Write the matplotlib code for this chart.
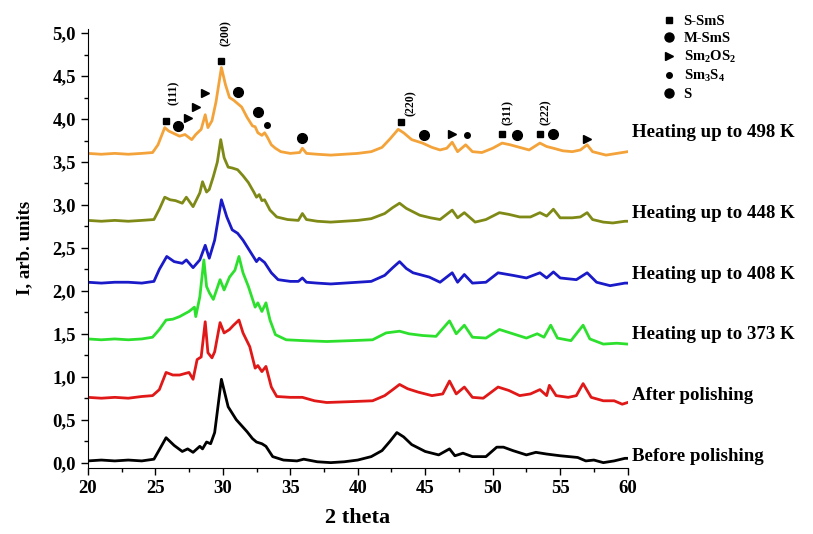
import numpy as np
import matplotlib
matplotlib.use('Agg')
import matplotlib.pyplot as plt
from matplotlib.lines import Line2D
from matplotlib.ticker import MultipleLocator, FuncFormatter

plt.rcParams['font.family'] = 'Liberation Serif'
plt.rcParams['font.weight'] = 'bold'
plt.rcParams['mathtext.fontset'] = 'custom'
plt.rcParams['mathtext.rm'] = 'Liberation Serif:bold'
plt.rcParams['mathtext.default'] = 'rm'

# ---- data (2 theta, intensity) ----
t_498 = [20, 21, 22, 23, 24, 24.8, 25.2, 25.7, 26.0, 26.4, 26.8, 27.2, 27.7, 28.0, 28.4, 28.7,
         28.9, 29.2, 29.5, 29.9, 30.2, 30.5, 30.8, 31.1, 31.4, 31.8, 32.2, 32.4, 32.6, 32.9,
         33.1, 33.3, 33.6, 33.9, 34.3, 35.0, 35.7, 35.9, 36.2, 37, 38, 39, 40, 41, 41.8, 42.4,
         43.0, 43.4, 44.0, 44.8, 45.5, 46.1, 46.6, 47.0, 47.4, 48.0, 48.5, 49.2, 50.0, 50.7,
         51.3, 52.0, 52.7, 53.5, 54.0, 54.5, 55.2, 55.9, 56.5, 57.0, 57.4, 58.4, 59.2, 60]
i_498 = [3.60, 3.59, 3.60, 3.59, 3.60, 3.61, 3.70, 3.90, 3.86, 3.83, 3.80, 3.82, 3.76, 3.82, 3.88, 4.05,
         3.90, 3.98, 4.20, 4.60, 4.40, 4.25, 4.22, 4.18, 4.14, 4.02, 3.92, 3.91, 3.84, 3.81,
         3.84, 3.79, 3.70, 3.66, 3.62, 3.60, 3.61, 3.66, 3.60, 3.59, 3.58, 3.59, 3.60, 3.62, 3.67, 3.77,
         3.88, 3.84, 3.76, 3.72, 3.67, 3.64, 3.66, 3.73, 3.62, 3.70, 3.62, 3.61, 3.66, 3.72,
         3.70, 3.67, 3.64, 3.72, 3.68, 3.66, 3.63, 3.62, 3.64, 3.70, 3.62, 3.58, 3.60, 3.62]

t_448 = [20, 21, 22, 23, 24, 24.9, 25.3, 25.7, 26.1, 26.5, 27.0, 27.3, 27.8, 28.3, 28.5, 28.8,
         29.0, 29.3, 29.6, 29.85, 30.1, 30.4, 30.7, 31.1, 31.5, 31.9, 32.3, 32.5, 32.7, 32.9,
         33.1, 33.5, 34.0, 34.8, 35.6, 35.9, 36.2, 37, 38, 39, 40, 41, 42, 42.6, 43.1, 43.6,
         44.6, 45.4, 46.1, 47.0, 47.4, 47.9, 48.7, 49.5, 50.5, 51.2, 52.0, 52.8, 53.5, 54.0,
         54.5, 55.0, 55.9, 56.5, 57.0, 57.4, 58.2, 58.9, 59.8, 60]
i_448 = [2.82, 2.81, 2.82, 2.81, 2.82, 2.83, 2.95, 3.09, 3.06, 3.05, 3.02, 3.09, 2.98, 3.14, 3.27, 3.15,
         3.18, 3.33, 3.50, 3.76, 3.55, 3.44, 3.43, 3.41, 3.34, 3.26, 3.15, 3.09, 3.12, 3.05,
         3.06, 2.94, 2.86, 2.83, 2.82, 2.90, 2.83, 2.81, 2.80, 2.81, 2.82, 2.84, 2.90, 2.97, 3.02, 2.96,
         2.88, 2.85, 2.83, 2.94, 2.85, 2.91, 2.80, 2.83, 2.91, 2.89, 2.86, 2.86, 2.91, 2.87,
         2.95, 2.85, 2.85, 2.86, 2.91, 2.83, 2.80, 2.79, 2.81, 2.81]

t_408 = [20, 21, 22, 23, 24, 24.9, 25.3, 25.85, 26.4, 27.0, 27.3, 27.8, 28.3, 28.7, 29.0, 29.4,
         29.9, 30.3, 30.7, 31.1, 31.5, 32.1, 32.5, 32.7, 33.1, 33.6, 34.1, 35.0, 35.6, 35.9,
         36.2, 37, 38, 39, 40, 41, 42, 42.6, 43.1, 43.6, 44.1, 45.3, 46.1, 47.0, 47.4, 47.9,
         48.5, 49.5, 50.4, 51.5, 52.5, 53.5, 54.0, 54.5, 55.0, 56.2, 57.0, 57.7, 58.7, 59.8, 60]
i_408 = [2.10, 2.09, 2.10, 2.10, 2.09, 2.11, 2.25, 2.40, 2.34, 2.32, 2.36, 2.27, 2.36, 2.53, 2.38, 2.59,
         3.06, 2.86, 2.71, 2.67, 2.59, 2.44, 2.34, 2.38, 2.33, 2.21, 2.13, 2.11, 2.11, 2.15,
         2.10, 2.09, 2.08, 2.09, 2.10, 2.11, 2.18, 2.27, 2.34, 2.26, 2.21, 2.16, 2.10, 2.21, 2.10, 2.19,
         2.09, 2.10, 2.21, 2.18, 2.15, 2.21, 2.15, 2.22, 2.15, 2.13, 2.21, 2.10, 2.06, 2.09, 2.09]

t_373 = [20, 21, 22, 23, 24, 24.8, 25.3, 25.8, 26.3, 26.8, 27.5, 27.9, 28.0, 28.3, 28.6, 28.8,
         29.0, 29.3, 29.8, 30.1, 30.5, 30.9, 31.2, 31.5, 31.9, 32.4, 32.6, 32.9, 33.2, 33.5,
         33.9, 34.7, 36, 37.7, 39.5, 41.1, 42.1, 43.1, 43.8, 44.8, 45.8, 46.8, 47.3, 47.9, 48.5,
         49.5, 50.5, 51.5, 52.5, 53.3, 53.8, 54.3, 54.8, 55.8, 56.7, 57.2, 58.2, 59.2, 60]
i_373 = [1.44, 1.43, 1.44, 1.43, 1.44, 1.46, 1.55, 1.66, 1.67, 1.70, 1.76, 1.81, 1.70, 1.93, 2.36, 2.05,
         1.98, 1.90, 2.13, 2.01, 2.16, 2.24, 2.40, 2.21, 2.05, 1.81, 1.86, 1.76, 1.86, 1.66,
         1.49, 1.43, 1.42, 1.41, 1.42, 1.43, 1.51, 1.53, 1.50, 1.48, 1.47, 1.65, 1.50, 1.60, 1.46,
         1.45, 1.55, 1.50, 1.45, 1.50, 1.46, 1.60, 1.45, 1.42, 1.60, 1.44, 1.38, 1.39, 1.38]

t_pol = [20, 21, 22, 23, 24, 24.8, 25.3, 25.8, 26.3, 26.8, 27.5, 27.8, 28.1, 28.4, 28.7, 28.9,
         29.2, 29.4, 29.8, 30.1, 30.5, 30.8, 31.2, 31.5, 32.0, 32.4, 32.6, 32.9, 33.2, 33.6,
         34.0, 35.0, 35.9, 36.8, 37.7, 39.5, 41.1, 42.0, 42.6, 43.1, 43.7, 44.5, 45.5, 46.3,
         46.8, 47.3, 47.9, 48.5, 49.3, 50.4, 51.2, 52.0, 52.8, 53.5, 54.0, 54.2, 54.7, 55.6,
         56.2, 56.7, 57.3, 58.2, 59.0, 59.6, 60]
i_pol = [0.76, 0.75, 0.76, 0.75, 0.77, 0.78, 0.85, 1.05, 1.02, 1.02, 1.05, 0.97, 1.20, 1.23, 1.64, 1.28,
         1.22, 1.29, 1.63, 1.51, 1.55, 1.60, 1.66, 1.51, 1.35, 1.10, 1.13, 1.06, 1.12, 0.88,
         0.77, 0.76, 0.76, 0.72, 0.70, 0.71, 0.72, 0.78, 0.85, 0.91, 0.86, 0.82, 0.78, 0.80,
         0.95, 0.80, 0.88, 0.76, 0.75, 0.88, 0.84, 0.78, 0.80, 0.85, 0.78, 0.90, 0.78, 0.76,
         0.78, 0.92, 0.76, 0.72, 0.72, 0.68, 0.70]

t_raw = [20, 21, 22, 23, 24, 24.9, 25.3, 25.8, 26.4, 27.0, 27.4, 27.8, 28.3, 28.5, 28.8, 29.1,
         29.4, 29.9, 30.4, 31.0, 31.4, 31.8, 32.2, 32.5, 32.9, 33.2, 33.7, 34.5, 35.5, 36, 37,
         38, 39, 40, 41, 41.8, 42.4, 42.9, 43.4, 44.0, 45.0, 46.0, 46.8, 47.2, 47.8, 48.5, 49.5,
         50.3, 50.8, 51.5, 52.5, 53.2, 54.0, 55.0, 56.3, 56.9, 57.5, 58.2, 59.0, 59.8, 60]
i_raw = [0.02, 0.03, 0.02, 0.03, 0.02, 0.04, 0.15, 0.29, 0.20, 0.13, 0.16, 0.12, 0.19, 0.16, 0.24, 0.22,
         0.35, 0.97, 0.65, 0.50, 0.43, 0.36, 0.28, 0.24, 0.22, 0.19, 0.07, 0.03, 0.02, 0.04, 0.01,
         0.00, 0.01, 0.03, 0.07, 0.14, 0.25, 0.35, 0.30, 0.21, 0.13, 0.09, 0.16, 0.08, 0.11, 0.07, 0.07,
         0.18, 0.18, 0.14, 0.09, 0.12, 0.10, 0.08, 0.06, 0.02, 0.03, 0.00, 0.02, 0.05, 0.05]

series_labels = ['Heating up to 498 K', 'Heating up to 448 K', 'Heating up to 408 K',
                 'Heating up to 373 K', 'After polishing', 'Before polishing']

# phase markers (2 theta, level)
sms_s_t = [25.8, 29.9, 43.2, 50.7, 53.5]
sms_s_i = [3.98, 4.67, 3.97, 3.83, 3.83]
sms_m_t = [26.7, 31.1, 32.6, 44.9, 51.8, 54.5]
sms_m_i = [3.92, 4.31, 4.08, 3.81, 3.81, 3.83]
sm2os2_t = [27.4, 28.0, 28.7, 47.0, 57.0]
sm2os2_i = [4.01, 4.14, 4.30, 3.83, 3.77]
sm3s4_t = [33.3, 48.1]
sm3s4_i = [3.93, 3.81]
s_t = [35.9]
s_i = [3.78]

hkl = ['(111)', '(200)', '(220)', '(311)', '(222)']
hkl_t = [26.4, 30.2, 43.9, 51.1, 53.9]
hkl_i = [4.31, 5.0, 4.19, 4.08, 4.08]

colors = ['#f3a33a', '#7f8a16', '#1a1ac8', '#2ee02e', '#e01818', '#000000']
curves = [(t_498, i_498), (t_448, i_448), (t_408, i_408), (t_373, i_373), (t_pol, i_pol), (t_raw, i_raw)]
label_y = [3.84, 2.90, 2.19, 1.49, 0.78, 0.07]

fig = plt.figure(figsize=(8.13, 5.34), dpi=100)
ax = fig.add_axes([0.108, 0.124, 0.664, 0.822])

for (t, i), c in zip(curves, colors):
    ax.plot(t, i, color=c, lw=2)

for lab, y in zip(series_labels, label_y):
    ax.text(60.35, y, lab, fontsize=13.6, fontweight='bold', va='center', ha='left', clip_on=False)

ax.plot(sms_s_t, sms_s_i, 's', color='k', ms=4.5, ls='none')
ax.plot(sms_m_t, sms_m_i, 'o', color='k', ms=7, ls='none')
ax.plot(sm2os2_t, sm2os2_i, '>', color='k', ms=5.5, ls='none')
ax.plot(sm3s4_t, sm3s4_i, 'o', color='k', ms=4, ls='none')
ax.plot(s_t, s_i, 'o', color='k', ms=7, ls='none')

for h, x, y in zip(hkl, hkl_t, hkl_i):
    ax.text(x, y, h, rotation=90, fontsize=8.5, fontweight='bold', ha='center', va='center', clip_on=False)

handles = [Line2D([], [], marker='s', color='k', ls='none', ms=4.5),
           Line2D([], [], marker='o', color='k', ls='none', ms=6.5),
           Line2D([], [], marker='>', color='k', ls='none', ms=5.5),
           Line2D([], [], marker='o', color='k', ls='none', ms=4),
           Line2D([], [], marker='o', color='k', ls='none', ms=6.5)]
names = ['S-SmS', 'M-SmS', 'Sm$_2$OS$_2$', 'Sm$_3$S$_4$', 'S']
leg = ax.legend(handles, names, loc='upper left', bbox_to_anchor=(1.055, 1.045), frameon=False,
                fontsize=10.5, handlelength=0.8, handletextpad=0.6, labelspacing=0.25, borderaxespad=0)
for txt in leg.get_texts():
    txt.set_fontweight('bold')

ax.set_xlim(20, 60)
ax.set_ylim(-0.06, 5.05)
ax.spines['top'].set_visible(False)
ax.spines['right'].set_visible(False)
ax.xaxis.set_major_locator(MultipleLocator(5))
ax.xaxis.set_minor_locator(MultipleLocator(2.5))
ax.yaxis.set_major_locator(MultipleLocator(0.5))
ax.yaxis.set_minor_locator(MultipleLocator(0.25))
ax.yaxis.set_major_formatter(FuncFormatter(lambda v, p: '{:.1f}'.format(v).replace('.', ',')))
ax.tick_params(which='major', length=5, width=1, labelsize=13.5)
ax.tick_params(which='minor', length=3, width=1)
ax.set_xlabel('2 theta', fontsize=16, fontweight='bold', labelpad=8)
ax.set_ylabel('I, arb. units', fontsize=13.5, fontweight='bold', labelpad=14)

fig.savefig('out.png', dpi=100)
